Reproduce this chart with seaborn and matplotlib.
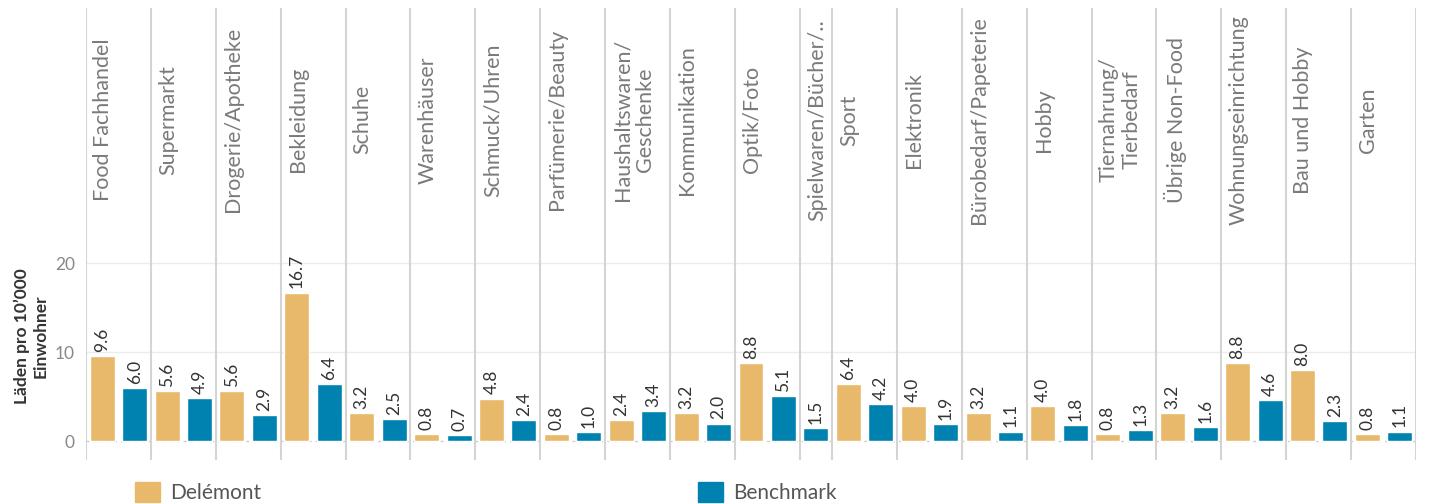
" Läden pro 10'000 Einwohner: Delémont vs Benchmark "
import numpy as np
import pandas as pd
import matplotlib.pyplot as plt
from matplotlib.patches import Patch
import seaborn as sns

CATEGORIES = ['Food Fachhandel', 'Supermarkt', 'Drogerie/Apotheke', 'Bekleidung', 'Schuhe',
              'Warenhäuser', 'Schmuck/Uhren', 'Parfümerie/Beauty', 'Haushaltswaren/\nGeschenke',
              'Kommunikation', 'Optik/Foto', 'Spielwaren/Bücher/..', 'Sport', 'Elektronik',
              'Bürobedarf/Papeterie', 'Hobby', 'Tiernahrung/\nTierbedarf', 'Übrige Non-Food',
              'Wohnungseinrichtung', 'Bau und Hobby', 'Garten']
DELEMONT = [9.6, 5.6, 5.6, 16.7, 3.2, 0.8, 4.8, 0.8, 2.4, 3.2, 8.8, np.nan,
            6.4, 4.0, 3.2, 4.0, 0.8, 3.2, 8.8, 8.0, 0.8]
BENCHMARK = [6.0, 4.9, 2.9, 6.4, 2.5, 0.7, 2.4, 1.0, 3.4, 2.0, 5.1, 1.5,
             4.2, 1.9, 1.1, 1.8, 1.3, 1.6, 4.6, 2.3, 1.1]
SERIES = ['Delémont', 'Benchmark']
COLORS = {'Delémont': '#E8B96A', 'Benchmark': '#0082B0'}
Y_TICKS = [0, 10, 20]

if __name__ == "__main__":
    sns.set_style('white')
    plt.rcParams['font.family'] = ['Lato', 'DejaVu Sans']

    # eine Spalte pro vorhandenem Wert (fehlende Werte belegen keinen Platz)
    rows = []
    starts = []
    slot = 0
    for i, cat in enumerate(CATEGORIES):
        starts.append(slot)
        for name, vals in zip(SERIES, [DELEMONT, BENCHMARK]):
            if not np.isnan(vals[i]):
                rows.append({'slot': slot, 'Kategorie': cat, 'series': name, 'value': vals[i]})
                slot += 1
    n_slots = slot
    df = pd.DataFrame(rows)
    edges = [s - 0.5 for s in starts] + [n_slots - 0.5]

    W, H = 1429, 504
    fig = plt.figure(figsize=(W / 100, H / 100), dpi=100)
    ax = fig.add_axes([86 / W, 1 - 460 / H, 1330 / W, 219 / H])
    ax_h = fig.add_axes([86 / W, 1 - 241 / H, 1330 / W, 233 / H], sharex=ax)

    sns.barplot(data=df, x='slot', y='value', hue='series', hue_order=SERIES,
                palette=COLORS, order=list(range(n_slots)), dodge=False,
                width=0.77, saturation=1, legend=False, ax=ax)
    for cont in ax.containers:
        ax.bar_label(cont, fmt='%.1f', rotation=90, padding=3, fontsize=12.5, color='#333333')

    ax.set_xlim(-0.5, n_slots - 0.5)
    ax.set_ylim(-2.1, 22.5)
    ax.set_yticks(Y_TICKS)
    ax.set_xticks([])
    ax.set_xlabel('')
    ax.set_ylabel('')
    ax.tick_params(axis='y', length=0, pad=8, labelsize=12.5, labelcolor='#888888')
    for y in Y_TICKS[1:]:
        ax.axhline(y, color='#ececec', lw=1, zorder=0)
    ax.axhline(0, color='#cccccc', lw=1, ls=(0, (2, 3)), zorder=0)
    for e in edges:
        ax.axvline(e, color='#d4d4d4', lw=1.5, zorder=0)
        ax_h.axvline(e, color='#d4d4d4', lw=1.5, zorder=0)
    sns.despine(ax=ax, left=True, bottom=True)

    # Kopfzeile mit Kategorienamen
    ax_h.set_ylim(0, 1)
    ax_h.axis('off')
    for cat, s in zip(CATEGORIES, starts):
        ax_h.text(s - 0.5 + 0.22, 0.52, cat, rotation=90, ha='left', va='center',
                  multialignment='center', fontsize=15.5, color='#7a7a7a')

    fig.text(31 / W, 1 - 336 / H, 'Läden pro 10’000\nEinwohner', rotation=90,
             ha='center', va='center', multialignment='center',
             fontsize=12.5, fontweight='bold', color='#333333')

    for name, x0 in zip(SERIES, [135, 698]):
        fig.legend(handles=[Patch(color=COLORS[name], label=name)], loc='upper left',
                   bbox_to_anchor=(x0 / W, 1 - 482 / H), frameon=False, borderpad=0,
                   borderaxespad=0, handlelength=1.2, handleheight=1.1,
                   handletextpad=0.5, fontsize=15, labelcolor='#555555')

    plt.savefig('out.png')
    plt.close()
